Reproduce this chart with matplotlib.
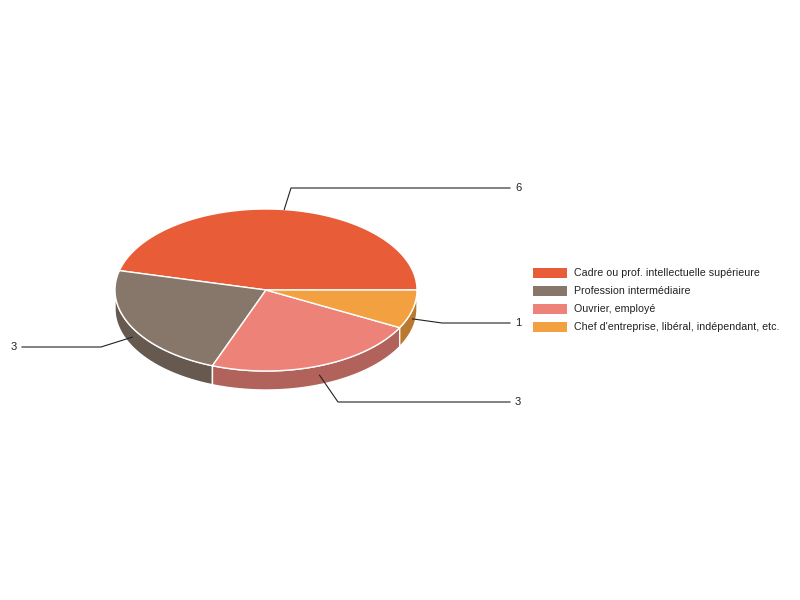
import numpy as np
import matplotlib
matplotlib.use("Agg")
import matplotlib.pyplot as plt
from matplotlib.patches import Polygon, Rectangle

plt.rcParams['font.family'] = ['Liberation Sans', 'DejaVu Sans']

categories = ["Cadre ou prof. intellectuelle supérieure",
              "Profession intermédiaire",
              "Ouvrier, employé",
              "Chef d'entreprise, libéral, indépendant, etc."]
values = [6, 3, 3, 1]
colors = ["#e85d37", "#87776a", "#ed8378", "#f3a140"]
side_colors = ["#a8432a", "#655950", "#b1635b", "#b97a30"]

# geometry of the flattened pie (pixels)
cx, cy = 266, 290
rx, ry = 151, 81
depth = 19

fig = plt.figure(figsize=(8, 6), dpi=100)
ax = fig.add_axes([0, 0, 1, 1])
ax.set_xlim(0, 800)
ax.set_ylim(600, 0)
ax.axis("off")

total = sum(values)
# slices go counter-clockwise on screen starting at 3 o'clock (negative t in y-down coords)
bounds = [0]
for v in values:
    bounds.append(bounds[-1] - 360.0 * v / total)

def pt(t):
    r = np.radians(t)
    return cx + rx * np.cos(r), cy + ry * np.sin(r)

# side walls (only the front half is visible)
for i in range(len(values)):
    ts = np.linspace(bounds[i + 1], bounds[i], 200)
    tt = np.mod(ts, 360)
    m = (tt >= 0) & (tt <= 180)
    if not m.any():
        continue
    tv = np.sort(tt[m])
    xs = cx + rx * np.cos(np.radians(tv))
    ys = cy + ry * np.sin(np.radians(tv))
    poly = np.vstack([np.column_stack([xs, ys]),
                      np.column_stack([xs[::-1], ys[::-1] + depth])])
    ax.add_patch(Polygon(poly, closed=True, fc=side_colors[i], ec="white", lw=1, zorder=1))

# tops
for i in range(len(values)):
    ts = np.linspace(bounds[i + 1], bounds[i], 200)
    xs = cx + rx * np.cos(np.radians(ts))
    ys = cy + ry * np.sin(np.radians(ts))
    poly = np.vstack([[cx, cy], np.column_stack([xs, ys])])
    ax.add_patch(Polygon(poly, closed=True, fc=colors[i], ec="white", lw=1, zorder=2))

# value labels with leader lines
label_y = [188, 347, 402, 323]
elbow_x = [291, 101, 338, 442]
for i, v in enumerate(values):
    mid = (bounds[i] + bounds[i + 1]) / 2
    x0, y0 = pt(mid)
    if np.sin(np.radians(mid)) > 0:
        y0 += depth / 2
    if x0 < cx and i != 0:
        xe, xt = 22, 11
    else:
        xe, xt = 510, 515
    ax.plot([x0, elbow_x[i], xe], [y0, label_y[i], label_y[i]], color="#222222", lw=0.8, zorder=3)
    ax.text(xt, label_y[i], str(v), fontsize=8, va="center", ha="left", color="#222222")

# legend
ly = [273, 291, 309, 327]
for i, c in enumerate(categories):
    ax.add_patch(Rectangle((533, ly[i] - 5), 34, 10, fc=colors[i], ec="none"))
    ax.text(574, ly[i], c, fontsize=7.7, va="center", ha="left", color="#222222")

fig.savefig("out.png", dpi=100, facecolor="white")
